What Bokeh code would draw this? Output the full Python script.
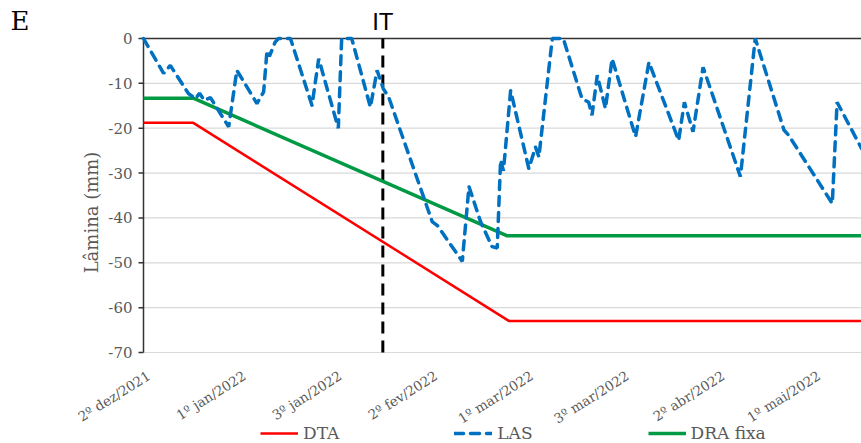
import math
from bokeh.plotting import figure
from bokeh.models import Range1d, Legend, LegendItem
from bokeh.core.properties import value
from bokeh.embed import file_html
from bokeh.resources import INLINE

# Days counted from the start of the 2nd ten-day period of December 2021
tick_days = [0, 20, 40, 60, 80, 100, 120, 140]
tick_labels = ["2º dez/2021", "1º jan/2022", "3º jan/2022", "2º fev/2022",
               "1º mar/2022", "3º mar/2022", "2º abr/2022", "1º mai/2022"]
y_ticks = [-70, -60, -50, -40, -30, -20, -10, 0]
y_tick_labels = ["-70", "-60", "-50", "-40", "-30", "-20", "-10", "0"]

# LAS: soil water depletion (mm)
las_day = [0, 4.2, 5.6, 9.4, 10.9, 11.7, 12.7, 14.0, 17.8, 19.5, 23.7, 25.1,
           25.8, 26.3, 27.5, 28.2, 30.7, 35.2, 36.6, 40.7, 41.4, 43.5, 47.4,
           48.8, 50.1, 51.2, 60.3, 61.4, 66.6, 68.0, 70.4, 72.8, 73.9, 74.6,
           75.2, 76.7, 80.5, 81.9, 82.6, 85.4, 87.7, 91.6, 93.0, 93.7, 94.8,
           96.5, 97.9, 102.8, 105.6, 111.8, 113.0, 114.8, 116.9, 124.7, 127.8,
           133.8, 134.8, 143.9, 144.9, 150.0]
las_mm = [0, -7.8, -6.0, -12.3, -13.4, -12.2, -13.8, -13.2, -19.7, -7.1, -14.5,
          -11.9, -2.7, -4.0, -0.8, 0, 0, -14.9, -4.5, -20.0, 0, 0, -15.3,
          -7.1, -11.2, -13.0, -40.8, -41.7, -49.7, -33.0, -40.8, -46.4, -46.7,
          -27.1, -29.5, -11.6, -29.0, -24.2, -26.4, 0, 0, -13.4, -14.2, -17.1,
          -8.2, -15.6, -4.5, -21.9, -5.3, -22.7, -14.2, -20.8, -6.4, -30.8, 0,
          -20.4, -21.6, -36.8, -14.2, -24.5]

# DTA: total available water (mm)
dta_day = [0, 10.4, 76.4, 150]
dta_mm = [-18.8, -18.8, -63.0, -63.0]

# DRA fixa: fixed readily available water (mm)
dra_day = [0, 10.4, 76.0, 150]
dra_mm = [-13.3, -13.3, -44.0, -44.0]

# Start of the irrigation treatments
it_day = 50

SERIF = value("DejaVu Serif")
TEXT = "#595959"
AXIS = "#333333"
GRID = "#d9d9d9"
RED, GREEN, BLUE = "#ff0000", "#009a44", "#0070c0"

W, H = 861, 443
LEFT, TOP, BOTTOM = 143, 38, 352          # plot-area edges in pixels
DAY_MAX = 150
px_day = (W - LEFT) / DAY_MAX              # pixels per day
px_mm = (BOTTOM - TOP) / 70                # pixels per mm


def dx(px):
    return px / px_day


def dy(px):
    return px / px_mm


# The frame covers the whole canvas; axes, ticks and labels are drawn in
# data space around the -70..0 / 0..150 plot area.
p = figure(width=W, height=H, output_backend="svg", toolbar_location=None,
           x_range=Range1d(-dx(LEFT), DAY_MAX),
           y_range=Range1d(-70 - dy(H - BOTTOM), dy(TOP)),
           min_border=0)
p.axis.visible = False
p.grid.grid_line_color = None
p.outline_line_color = None

# horizontal gridlines
p.segment(x0=[0] * 7, y0=y_ticks[:-1], x1=[DAY_MAX] * 7, y1=y_ticks[:-1],
          line_color=GRID, line_width=1.2)

# vertical axis, its ticks and labels
p.segment(x0=[0], y0=[y_ticks[0]], x1=[0], y1=[y_ticks[-1]],
          line_color=AXIS, line_width=1.5)
p.segment(x0=[-dx(5)] * len(y_ticks), y0=y_ticks, x1=[0] * len(y_ticks),
          y1=y_ticks, line_color=AXIS, line_width=1.5)
p.text(x=[-dx(11)] * len(y_ticks), y=y_ticks, text=y_tick_labels,
       text_align="right", text_baseline="middle", text_font=SERIF,
       text_font_size="15px", text_color=TEXT)
p.text(x=[-dx(52)], y=[-dy(212 - TOP)], text=["Lâmina (mm)"], angle=math.pi / 2,
       text_align="center", text_baseline="middle", text_font=SERIF,
       text_font_size="18px", text_color=TEXT)

# horizontal axis line crossing at zero
p.segment(x0=[0], y0=[0], x1=[DAY_MAX], y1=[0], line_color=AXIS, line_width=1.5)

# date labels
p.text(x=[d + dx(1) for d in tick_days], y=[-70 - dy(15)] * len(tick_days),
       text=tick_labels, angle=0.56, text_align="right", text_baseline="top",
       text_font=SERIF, text_font_size="13.5px", text_color=TEXT)

# IT marker
p.segment(x0=[it_day], y0=[y_ticks[0]], x1=[it_day], y1=[y_ticks[-1]],
          line_color="black", line_width=3, line_dash="12 7")
p.text(x=[it_day], y=[dy(TOP - 21)], text=["IT"], text_align="center",
       text_baseline="alphabetic", text_font=value("Liberation Sans"),
       text_font_size="24px", text_color="black")

# panel letter
p.text(x=[-dx(LEFT - 10)], y=[dy(TOP - 20)], text=["E"], text_align="left",
       text_baseline="alphabetic", text_font=SERIF, text_font_size="26px",
       text_color="black")

r_dta = p.line(dta_day, dta_mm, line_color=RED, line_width=2.5)
r_dra = p.line(dra_day, dra_mm, line_color=GREEN, line_width=3.5)
r_las = p.line(las_day, las_mm, line_color=BLUE, line_width=3.5,
               line_dash="9 7", line_cap="round")

legend = Legend(items=[LegendItem(label="DTA", renderers=[r_dta]),
                       LegendItem(label="LAS", renderers=[r_las]),
                       LegendItem(label="DRA fixa", renderers=[r_dra])],
                location=(260, 0), orientation="horizontal",
                glyph_width=38, glyph_height=20, label_standoff=5, spacing=115,
                padding=0, margin=0, border_line_color=None,
                background_fill_alpha=0, label_text_font="DejaVu Serif",
                label_text_font_size="17px", label_text_color=TEXT)
p.add_layout(legend)

open("out.html", "w").write(file_html(p, INLINE))
